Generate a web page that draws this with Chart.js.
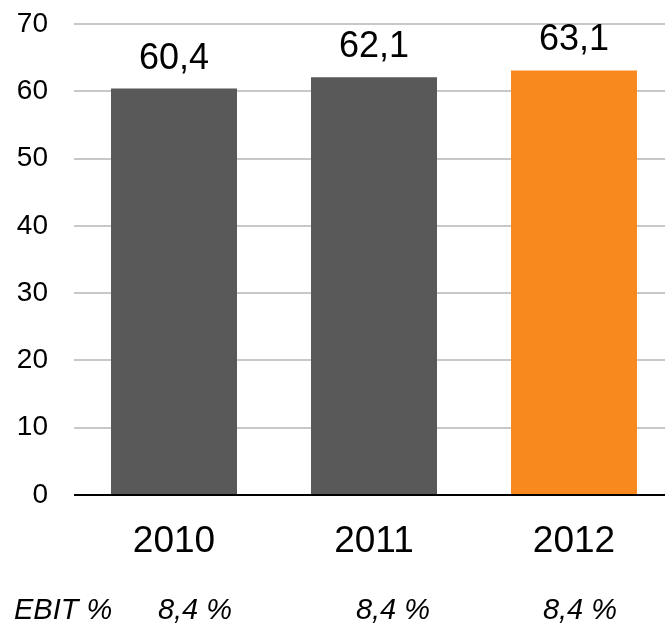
<!DOCTYPE html>
<html>
<head>
<meta charset="utf-8">
<script src="https://cdn.jsdelivr.net/npm/chart.js@4"></script>
<style>
  html, body { margin: 0; padding: 0; background: #fff; overflow: hidden; }
</style>
</head>
<body>
<canvas id="chart" width="674" height="623"></canvas>
<script>
// DATA
const years = ["2010", "2011", "2012"];
const revenue = [60.4, 62.1, 63.1];
const ebit = ["8,4 %", "8,4 %", "8,4 %"];
const yTicks = [0, 10, 20, 30, 40, 50, 60, 70];

const FONT = "'Liberation Sans', Arial, sans-serif";
const barColors = ["#595959", "#595959", "#F7891F"];

// value above each bar
const valueLabels = {
  id: "valueLabels",
  afterDatasetsDraw(chart) {
    const ctx = chart.ctx;
    const meta = chart.getDatasetMeta(0);
    ctx.save();
    ctx.font = "36px " + FONT;
    ctx.fillStyle = "#000";
    ctx.textAlign = "center";
    ctx.textBaseline = "alphabetic";
    meta.data.forEach((bar, i) => {
      ctx.fillText(revenue[i].toFixed(1).replace(".", ","), bar.x, bar.y - 20);
    });
    ctx.restore();
  }
};

// EBIT % row under the axis
const ebitRow = {
  id: "ebitRow",
  afterDraw(chart) {
    const ctx = chart.ctx;
    const x = chart.scales.x;
    const shift = [21, 19, 6];
    ctx.save();
    ctx.font = "italic 29px " + FONT;
    ctx.fillStyle = "#000";
    ctx.textBaseline = "alphabetic";
    ctx.textAlign = "left";
    ctx.fillText("EBIT %", 14, 619);
    ctx.textAlign = "center";
    ebit.forEach((t, i) => {
      ctx.fillText(t, x.getPixelForValue(i) + shift[i], 619);
    });
    ctx.restore();
  }
};

new Chart(document.getElementById("chart"), {
  type: "bar",
  data: {
    labels: years,
    datasets: [{
      data: revenue,
      backgroundColor: barColors,
      categoryPercentage: 1,
      barPercentage: 0.63
    }]
  },
  options: {
    responsive: false,
    animation: false,
    layout: { padding: { top: 24, left: 0, right: 0, bottom: 0 } },
    plugins: { legend: { display: false }, tooltip: { enabled: false } },
    scales: {
      x: {
        grid: { display: false },
        border: { display: false },
        ticks: { color: "#000", font: { family: FONT, size: 37 }, padding: 17 },
        afterFit(s) { s.height = 128; }
      },
      y: {
        min: 0,
        max: 70,
        afterBuildTicks(s) { s.ticks = yTicks.map(v => ({ value: v })); },
        grid: {
          drawTicks: false,
          lineWidth: 2,
          color: c => (c.tick && c.tick.value === 0 ? "#000" : "#C8C8C8")
        },
        border: { display: false },
        ticks: { color: "#000", font: { family: FONT, size: 28 }, padding: 26 },
        afterFit(s) {
          s.width = 74;
          s.paddingTop = 0;
          s.paddingBottom = 0;
        }
      }
    }
  },
  plugins: [valueLabels, ebitRow]
});
</script>
</body>
</html>
